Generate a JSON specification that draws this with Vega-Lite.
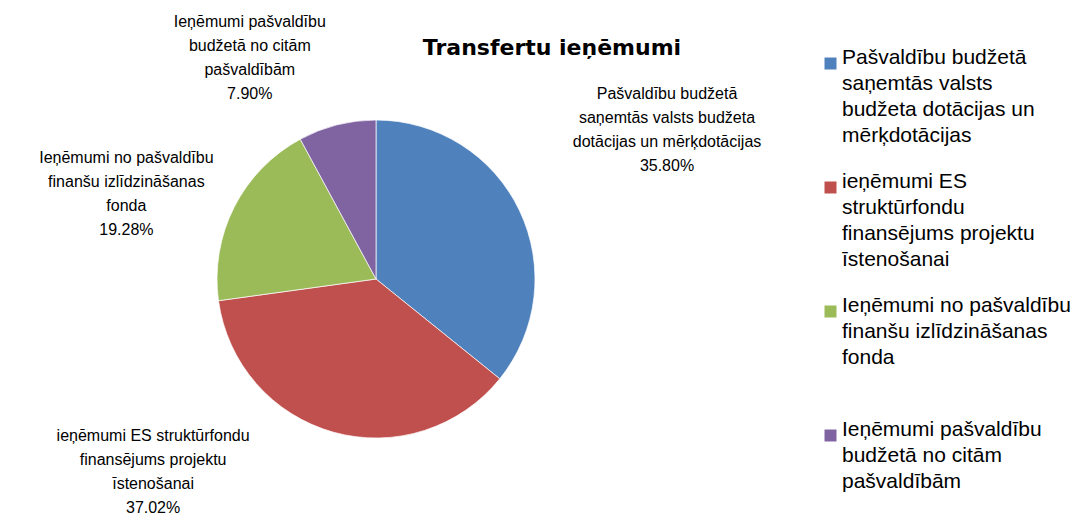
{
  "$schema": "https://vega.github.io/schema/vega-lite/v6.json",
  "width": 752,
  "height": 480,
  "autosize": {"type": "none"},
  "padding": {"left": 0, "top": 39, "right": 333, "bottom": 8},
  "background": "white",
  "config": {"view": {"stroke": null}, "style": {"guide-label": {"lineHeight": 26}}},
  "title": {
    "text": "Transfertu ieņēmumi",
    "font": "DejaVu Sans",
    "fontSize": 22,
    "fontWeight": "bold",
    "color": "#000000",
    "anchor": "middle",
    "frame": "group",
    "offset": 0,
    "baseline": "alphabetic",
    "dx": 176,
    "dy": 63
  },
  "data": {
    "values": [
      {"nr": 1, "kategorija": "Pašvaldību budžetā|saņemtās valsts|budžeta dotācijas un|mērķdotācijas", "vertiba": 35.80, "etikete": "Pašvaldību budžetā|saņemtās valsts budžeta|dotācijas un mērķdotācijas|35.80%"},
      {"nr": 2, "kategorija": "ieņēmumi ES|struktūrfondu|finansējums projektu|īstenošanai", "vertiba": 37.02, "etikete": "ieņēmumi ES struktūrfondu|finansējums projektu|īstenošanai|37.02%"},
      {"nr": 3, "kategorija": "Ieņēmumi no pašvaldību|finanšu izlīdzināšanas|fonda", "vertiba": 19.28, "etikete": "Ieņēmumi no pašvaldību|finanšu izlīdzināšanas|fonda|19.28%"},
      {"nr": 4, "kategorija": "Ieņēmumi pašvaldību|budžetā no citām|pašvaldībām", "vertiba": 7.90, "etikete": "Ieņēmumi pašvaldību|budžetā no citām|pašvaldībām|7.90%"}
    ]
  },
  "layer": [
    {
      "mark": {"type": "arc", "outerRadius": 159, "stroke": "#ffffff", "strokeWidth": 0.7},
      "encoding": {
        "theta": {"field": "vertiba", "type": "quantitative", "stack": true},
        "order": {"field": "nr", "type": "quantitative"},
        "color": {
          "field": "kategorija",
          "type": "nominal",
          "scale": {
            "domain": [
              "Pašvaldību budžetā|saņemtās valsts|budžeta dotācijas un|mērķdotācijas",
              "ieņēmumi ES|struktūrfondu|finansējums projektu|īstenošanai",
              "Ieņēmumi no pašvaldību|finanšu izlīdzināšanas|fonda",
              "Ieņēmumi pašvaldību|budžetā no citām|pašvaldībām"
            ],
            "range": ["#4F81BD", "#C0504D", "#9BBB59", "#8064A2"]
          },
          "legend": {
            "title": null,
            "orient": "none",
            "legendX": 820,
            "legendY": 14,
            "direction": "vertical",
            "symbolType": "square",
            "symbolSize": 144,
            "symbolStrokeWidth": 0,
            "labelFont": "Liberation Sans",
            "labelFontSize": 21,
            "labelColor": "#000000",
            "labelLimit": 400,
            "labelOffset": 1,
            "labelBaseline": "alphabetic",
            "labelExpr": "split(datum.label, '|')",
            "rowPadding": 24,
            "gridAlign": "all",
            "padding": 0,
            "encode": {"labels": {"lineHeight": {"value": 26}}}
          }
        }
      }
    },
    {
      "transform": [
        {"stack": "vertiba", "groupby": [], "sort": [{"field": "nr", "order": "ascending"}], "as": ["v0", "v1"]},
        {"filter": "datum.nr == 1"}
      ],
      "mark": {"type": "text", "radius": 185, "dx": 291, "dy": 0, "font": "Liberation Sans", "fontSize": 16, "lineBreak": "|", "lineHeight": 24, "align": "center", "baseline": "middle", "color": "#000000"},
      "encoding": {
        "theta": {"field": "v0", "type": "quantitative", "stack": false},
        "text": {"field": "etikete", "type": "nominal"}
      }
    },
    {
      "transform": [
        {"stack": "vertiba", "groupby": [], "sort": [{"field": "nr", "order": "ascending"}], "as": ["v0", "v1"]},
        {"filter": "datum.nr == 2"}
      ],
      "mark": {"type": "text", "radius": 225, "dx": 0, "dy": 126, "font": "Liberation Sans", "fontSize": 16, "lineBreak": "|", "lineHeight": 24, "align": "center", "baseline": "middle", "color": "#000000"},
      "encoding": {
        "theta": {"field": "v1", "type": "quantitative", "stack": false},
        "text": {"field": "etikete", "type": "nominal"}
      }
    },
    {
      "transform": [
        {"stack": "vertiba", "groupby": [], "sort": [{"field": "nr", "order": "ascending"}], "as": ["v0", "v1"]},
        {"filter": "datum.nr == 3"}
      ],
      "mark": {"type": "text", "radius": 252, "dx": 0, "dy": -155, "font": "Liberation Sans", "fontSize": 16, "lineBreak": "|", "lineHeight": 24, "align": "center", "baseline": "middle", "color": "#000000"},
      "encoding": {
        "theta": {"field": "v0", "type": "quantitative", "stack": false},
        "text": {"field": "etikete", "type": "nominal"}
      }
    },
    {
      "transform": [
        {"stack": "vertiba", "groupby": [], "sort": [{"field": "nr", "order": "ascending"}], "as": ["v0", "v1"]},
        {"filter": "datum.nr == 4"}
      ],
      "mark": {"type": "text", "radius": 265, "dx": 0, "dy": -24, "font": "Liberation Sans", "fontSize": 16, "lineBreak": "|", "lineHeight": 24, "align": "center", "baseline": "middle", "color": "#000000"},
      "encoding": {
        "theta": {"field": "v0", "type": "quantitative", "stack": false},
        "text": {"field": "etikete", "type": "nominal"}
      }
    }
  ]
}
